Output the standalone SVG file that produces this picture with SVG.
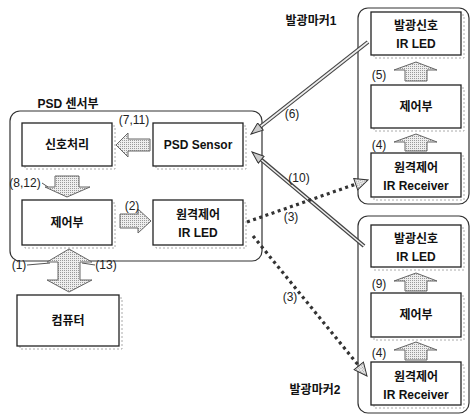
<svg xmlns="http://www.w3.org/2000/svg" width="471" height="417" viewBox="0 0 471 417">
<style>
.bg{fill:#fff}
.cont{fill:none;stroke:#333;stroke-width:1.2}
.box{fill:#fff;stroke:#222;stroke-width:1.3}
.sh{fill:none;stroke:#aaa;stroke-width:1;stroke-dasharray:2 2}
.t{font-family:"Liberation Sans","Noto Sans CJK KR",sans-serif;font-size:12px;font-weight:bold;fill:#111;text-anchor:middle}
.l{font-family:"Liberation Sans","Noto Sans CJK KR",sans-serif;font-size:12px;fill:#222;text-anchor:middle}
.blk{fill:url(#dots);stroke:#666;stroke-width:1}
.dk{fill:none;stroke:#444;stroke-width:4}
.lt{fill:none;stroke:#eee;stroke-width:1.6}
.dot{fill:none;stroke:#333;stroke-width:3.2;stroke-dasharray:3 3.5}
</style>
<defs>
<pattern id="dots" width="2" height="2" patternUnits="userSpaceOnUse">
<rect width="2" height="2" fill="#eee"/>
<rect width="1" height="1" fill="#999"/>
</pattern>
<marker id="ah" viewBox="0 0 14 10" refX="13" refY="5" markerWidth="14" markerHeight="10" orient="auto" markerUnits="userSpaceOnUse">
<path d="M1,0.5 L13,5 L1,9.5 z" fill="#ccc" stroke="#333" stroke-width="1"/>
</marker>
<marker id="ahd" viewBox="0 0 15 13" refX="14" refY="6.5" markerWidth="15" markerHeight="13" orient="auto" markerUnits="userSpaceOnUse">
<path d="M1,0.5 L14,6.5 L1,12.5 z" fill="url(#dots)" stroke="#333" stroke-width="1"/>
</marker>
</defs>
<rect class="bg" width="471" height="417"/>

<g id="psd-unit">
<rect class="cont" x="10" y="111" width="252" height="150" rx="10"/>
<text class="t" x="68" y="108">PSD 센서부</text>
</g>
<g id="signal">
<rect class="sh" x="25" y="126" width="90" height="43"/>
<rect class="box" x="22" y="123" width="90" height="43"/>
<text class="t" x="67" y="149">신호처리</text>
</g>
<g id="psd-sensor">
<rect class="sh" x="156" y="126" width="90" height="43"/>
<rect class="box" x="153" y="123" width="90" height="43"/>
<text class="t" x="198" y="149">PSD Sensor</text>
</g>
<g id="control-left">
<rect class="sh" x="25" y="203" width="90" height="45"/>
<rect class="box" x="22" y="200" width="90" height="45"/>
<text class="t" x="67" y="227">제어부</text>
</g>
<g id="remote-led">
<rect class="sh" x="156" y="203" width="90" height="45"/>
<rect class="box" x="153" y="200" width="90" height="45"/>
<text class="t" x="198" y="219">원격제어</text>
<text class="t" x="198" y="237">IR LED</text>
</g>
<g id="computer">
<rect class="sh" x="20" y="298" width="102" height="51"/>
<rect class="box" x="17" y="295" width="102" height="51"/>
<text class="t" x="68" y="325">컴퓨터</text>
</g>

<g id="marker1">
<rect class="cont" x="358" y="8" width="111" height="196" rx="10"/>
<text class="t" x="311" y="25">발광마커1</text>
</g>
<g id="m1-led">
<rect class="sh" x="374" y="15" width="90" height="43"/>
<rect class="box" x="371" y="12" width="90" height="43"/>
<text class="t" x="416" y="30">발광신호</text>
<text class="t" x="416" y="48">IR LED</text>
</g>
<g id="m1-control">
<rect class="sh" x="374" y="88" width="90" height="43"/>
<rect class="box" x="371" y="85" width="90" height="43"/>
<text class="t" x="416" y="111">제어부</text>
</g>
<g id="m1-recv">
<rect class="sh" x="374" y="156" width="90" height="44"/>
<rect class="box" x="371" y="153" width="90" height="44"/>
<text class="t" x="416" y="172">원격제어</text>
<text class="t" x="416" y="190">IR Receiver</text>
</g>

<g id="marker2">
<rect class="cont" x="358" y="216" width="111" height="197" rx="10"/>
<text class="t" x="315" y="394">발광마커2</text>
</g>
<g id="m2-led">
<rect class="sh" x="374" y="228" width="90" height="42"/>
<rect class="box" x="371" y="225" width="90" height="42"/>
<text class="t" x="416" y="243">발광신호</text>
<text class="t" x="416" y="261">IR LED</text>
</g>
<g id="m2-control">
<rect class="sh" x="374" y="296" width="90" height="44"/>
<rect class="box" x="371" y="293" width="90" height="44"/>
<text class="t" x="416" y="319">제어부</text>
</g>
<g id="m2-recv">
<rect class="sh" x="374" y="365" width="90" height="43"/>
<rect class="box" x="371" y="362" width="90" height="43"/>
<text class="t" x="416" y="381">원격제어</text>
<text class="t" x="416" y="399">IR Receiver</text>
</g>

<g id="connectors">
<path class="blk" d="M150,139 L128,139 L128,133 L116,145 L128,157 L128,151 L150,151 z"/>
<text class="l" x="134" y="124">(7,11)</text>
<path class="blk" d="M55,176 L79,176 L79,187 L90,187 L67,197 L45,187 L55,187 z"/>
<text class="l" x="25" y="187">(8,12)</text>
<path d="M42,183 L48,187" stroke="#555" fill="none"/>
<path class="blk" d="M120,214 L138,214 L138,209 L151,221 L138,233 L138,228 L120,228 z"/>
<text class="l" x="132" y="210">(2)</text>
<path class="blk" d="M69,249 L92,262 L80,262 L80,280 L92,280 L69,292 L47,280 L58,280 L58,262 L47,262 z"/>
<text class="l" x="19" y="269">(1)</text>
<text class="l" x="106" y="269">(13)</text>
<path d="M27,265 L50,263 M82,263 L95,265" stroke="#555" fill="none"/>

<path class="blk" d="M405,81 L405,70 L394,70 L416,62 L437,70 L427,70 L427,81 z"/>
<text class="l" x="379" y="79">(5)</text>
<path class="blk" d="M405,151 L405,142 L394,142 L416,134 L437,142 L427,142 L427,151 z"/>
<text class="l" x="379" y="149">(4)</text>
<path class="blk" d="M405,291 L405,281 L394,281 L416,273 L437,281 L427,281 L427,291 z"/>
<text class="l" x="379" y="288">(9)</text>
<path class="blk" d="M405,360 L405,350 L394,350 L416,342 L437,350 L427,350 L427,360 z"/>
<text class="l" x="379" y="357">(4)</text>

<path class="dk" d="M368,42 L256,130"/>
<path class="lt" d="M368,42 L251,134" marker-end="url(#ah)"/>
<text class="l" x="292" y="118">(6)</text>
<path class="dk" d="M364,246 L257,156"/>
<path class="lt" d="M364,246 L252,152" marker-end="url(#ah)"/>
<text class="l" x="299" y="182">(10)</text>

<path class="dot" d="M247,222 L356,184"/>
<path d="M247,222 L368,180" fill="none" stroke="none" marker-end="url(#ahd)"/>
<text class="l" x="291" y="221">(3)</text>
<path class="dot" d="M253,236 L359,366"/>
<path d="M253,236 L367,376" fill="none" stroke="none" marker-end="url(#ahd)"/>
<text class="l" x="290" y="301">(3)</text>
</g>
</svg>
